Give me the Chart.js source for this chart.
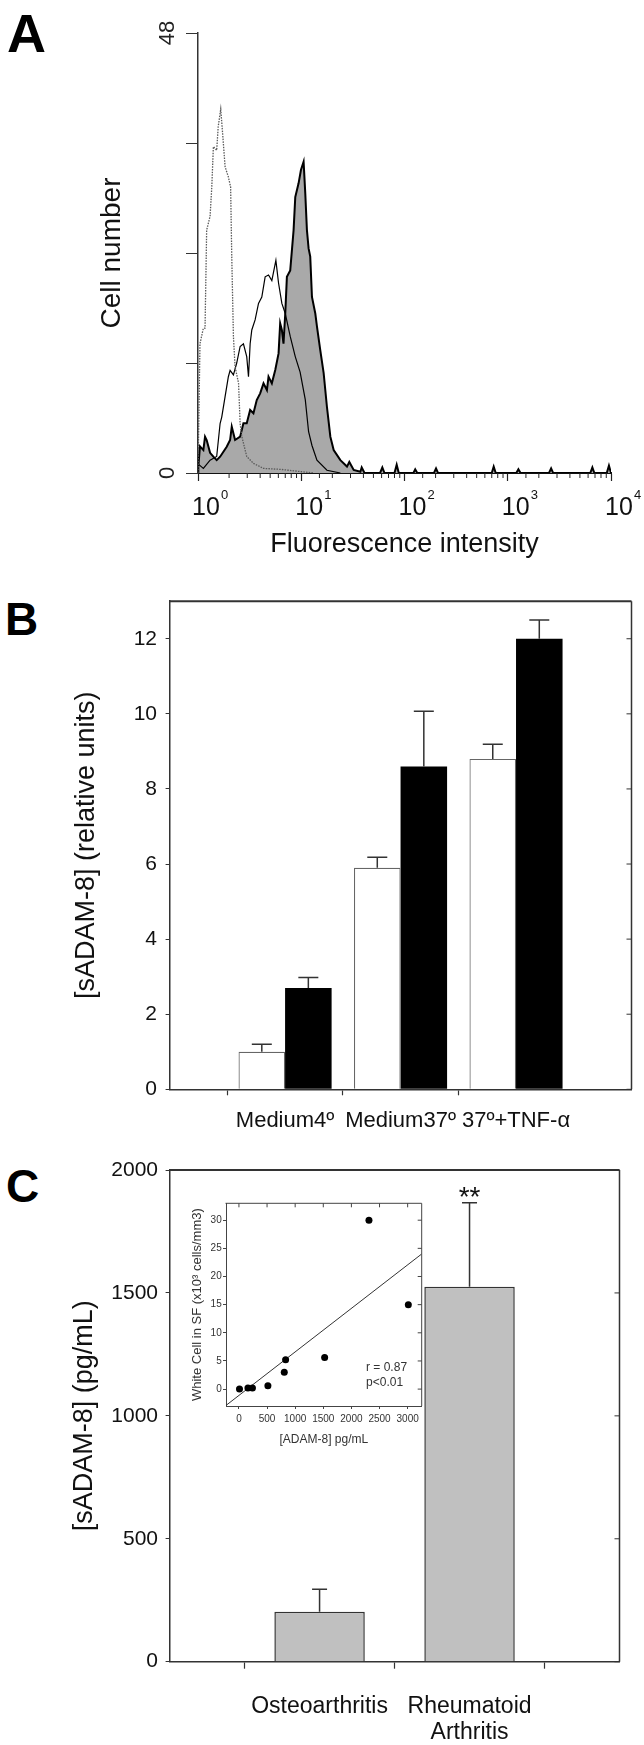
<!DOCTYPE html>
<html><head><meta charset="utf-8">
<script src="https://cdn.jsdelivr.net/npm/chart.js@4.4.1/dist/chart.umd.min.js"></script>
<style>
html,body{margin:0;padding:0;background:#fff;}
#page{position:relative;width:644px;height:1745px;overflow:hidden;font-family:"Liberation Sans",Arial,Helvetica,sans-serif;background:#fff;}
canvas{position:absolute;}
.letter{position:absolute;font-weight:bold;line-height:1;color:#000;font-family:"Liberation Sans",Arial,Helvetica,sans-serif;}
</style></head><body>
<div id="page">
  <div class="letter" style="left:7px;top:6px;font-size:54px">A</div>
  <div class="letter" style="left:5px;top:596px;font-size:46px">B</div>
  <div class="letter" style="left:6px;top:1163px;font-size:46px">C</div>
  <canvas id="cA" width="644" height="580" style="left:0;top:0"></canvas>
  <canvas id="cB" width="644" height="560" style="left:0;top:580px"></canvas>
  <canvas id="cC" width="644" height="605" style="left:0;top:1140px"></canvas>
  <canvas id="cI" width="248" height="254" style="left:180px;top:1196px"></canvas>
</div>
<script>
// ---------- Panel A: flow cytometry histograms ----------
const isoX = [1.00, 1.045, 1.127, 1.17, 1.213, 1.309, 1.36, 1.409, 1.517, 1.57, 1.66, 1.73, 1.83, 1.968, 2.07, 2.123, 2.203, 2.286, 2.47, 2.559, 2.655, 2.965, 3.443, 4.31, 6.25, 9.08, 13.2];
const isoY = [0, 14.1, 15.8, 15.8, 26.5, 28.0, 31.2, 35.6, 35.2, 37.8, 39.7, 37.1, 33.4, 32.3, 31.2, 23.6, 14.9, 11.6, 9.8, 5.4, 4.0, 1.8, 1.05, 0.5, 0.4, 0.2, 0];
const thinX = [1.0, 1.127, 1.309, 1.517, 1.637, 1.698, 1.828, 1.968, 2.046, 2.203, 2.371, 2.559, 2.754, 2.965, 3.083, 3.199, 3.319, 3.573, 3.855, 4.15, 4.47, 4.82, 5.19, 5.68, 6.03, 6.49, 7.0, 7.82, 8.75, 9.75, 10.94, 11.78, 12.7, 14.19, 17.74, 23.93];
const thinY = [1.0, 0.5, 1.4, 1.8, 5.4, 6.1, 8.3, 10.5, 11.2, 10.7, 12.0, 13.8, 14.1, 12.7, 10.5, 14.1, 15.6, 16.7, 18.5, 19.2, 21.4, 21.6, 21.0, 23.2, 20.7, 18.5, 17.4, 14.9, 12.7, 11.0, 8.0, 4.5, 3.0, 1.4, 0.3, 0];
const stainX = [1.0, 1.007, 1.045, 1.127, 1.17, 1.213, 1.309, 1.409, 1.517, 1.637, 1.897, 2.046, 2.123, 2.286, 2.559, 2.754, 2.965, 3.199, 3.443, 3.707, 4.0, 4.31, 4.65, 4.82, 5.19, 5.60, 6.03, 6.25, 6.49, 6.73, 7.0, 7.26, 7.82, 8.43, 8.75, 9.42, 9.93, 10.54, 10.94, 11.35, 11.78, 12.22, 12.7, 13.68, 14.19, 15.28, 16.48, 17.74, 19.14, 20.61, 23.93, 27.73, 29.2, 32.2, 37.4, 38.5, 41, 58, 61, 64, 80, 84, 88, 122, 127, 133, 193, 202, 211, 700, 731, 765, 1210, 1268, 1330, 2510, 2630, 2750, 6300, 6600, 6900, 9100, 9550, 10000];
const stainY = [0, 0.7, 2.9, 2.5, 3.96, 3.6, 2.2, 1.78, 1.4, 1.78, 2.87, 3.6, 5.05, 3.6, 3.96, 5.42, 5.42, 6.87, 6.51, 7.96, 8.69, 9.78, 9.05, 10.51, 9.78, 11.23, 13.05, 16.32, 15.6, 14.1, 17.4, 21.4, 22.1, 26.5, 30.1, 31.6, 33.05, 33.96, 30.5, 26.5, 24.5, 23.6, 19.2, 17.4, 16.0, 13.4, 10.9, 7.2, 3.96, 2.5, 1.4, 0.7, 1.2, 0.33, 0.14, 0.6, 0, 0, 0.6, 0, 0, 0.9, 0, 0, 0.4, 0, 0, 0.5, 0, 0, 0.7, 0, 0, 0.4, 0, 0, 0.5, 0, 0, 0.6, 0, 0, 0.8, 0];
const decadeExp = [0, 1, 2, 3, 4];
const yTicksA = [0, 48];

// ---------- Panel B ----------
const catB = ['Medium4\u00BA', 'Medium37\u00BA', '37\u00BA+TNF-\u03B1'];
const whiteB = [1.0, 5.9, 8.8];
const whiteErrB = [0.2, 0.28, 0.39];
const blackB = [2.7, 8.6, 12.0];
const blackErrB = [0.28, 1.47, 0.5];

// ---------- Panel C ----------
const catC = ['Osteoarthritis', ['Rheumatoid', 'Arthritis']];
const valC = [203, 1525];
const errC = [92, 342];
const sigC = ['', '**'];

// ---------- Inset ----------
const adamX = [10, 160, 240, 515, 806, 830, 1524, 2312, 3012];
const wbcY = [0, 0.2, 0.2, 0.6, 3.0, 5.2, 5.6, 30, 15];
const fitX = [-230, 3250];
const fitY = [-2.9, 24.0];
const insetXTicks = [0, 500, 1000, 1500, 2000, 2500, 3000];
const insetYTicks = [0, 5, 10, 15, 20, 25, 30];
const statText = ['r = 0.87', 'p<0.01'];

const FONT = '"Liberation Sans", Arial, Helvetica, sans-serif';
Chart.defaults.font.family = FONT;
Chart.defaults.color = '#111';
Chart.defaults.animation = false;
Chart.defaults.plugins.legend.display = false;
Chart.defaults.plugins.tooltip.enabled = false;

const pts = (xs, ys) => xs.map((x, i) => ({x: x, y: ys[i]}));

function errorBarPlugin(errSets, capW, color, lw) {
  return {id: 'errbars', afterDatasetsDraw(chart) {
    const ctx = chart.ctx, ys = chart.scales.y;
    ctx.save(); ctx.strokeStyle = color; ctx.lineWidth = lw;
    errSets.forEach((errs, di) => {
      if (!errs) return;
      const meta = chart.getDatasetMeta(di);
      meta.data.forEach((bar, i) => {
        const v = chart.data.datasets[di].data[i].y;
        const yTop = ys.getPixelForValue(v + errs[i]);
        ctx.beginPath();
        ctx.moveTo(bar.x, bar.y); ctx.lineTo(bar.x, yTop);
        ctx.moveTo(bar.x - capW / 2, yTop); ctx.lineTo(bar.x + capW / 2, yTop);
        ctx.stroke();
      });
    });
    ctx.restore();
  }};
}

function framePlugin(o) {
  return {id: 'frame', afterDraw(chart) {
    const {left, right, top, bottom} = chart.chartArea;
    const ctx = chart.ctx;
    ctx.save(); ctx.strokeStyle = o.color;
    ctx.lineWidth = o.topW;
    ctx.beginPath(); ctx.moveTo(left - 0.5, top); ctx.lineTo(right, top); ctx.stroke();
    ctx.lineWidth = o.rightW;
    ctx.beginPath(); ctx.moveTo(right, top); ctx.lineTo(right, bottom); ctx.stroke();
    ctx.lineWidth = 1;
    const ys = chart.scales.y;
    ys.ticks.forEach(t => {
      const py = ys.getPixelForValue(t.value);
      ctx.beginPath(); ctx.moveTo(right, py); ctx.lineTo(right - o.tick, py); ctx.stroke();
    });
    if (o.topTicks) {
      const xs = chart.scales.x;
      xs.ticks.forEach(t => {
        const px = xs.getPixelForValue(t.value);
        ctx.beginPath(); ctx.moveTo(px, top); ctx.lineTo(px, top + o.tick); ctx.stroke();
      });
    }
    ctx.restore();
  }};
}

// ================= Panel A =================
const isDecade = v => Math.abs(Math.log10(v) - Math.round(Math.log10(v))) < 1e-9;
const logLabelPlugin = {id: 'logLabels', afterDraw(chart) {
  const xs = chart.scales.x, ctx = chart.ctx, b = chart.chartArea.bottom;
  ctx.save(); ctx.fillStyle = '#111'; ctx.strokeStyle = '#222'; ctx.lineWidth = 1;
  xs.ticks.forEach(t => {
    if (!isDecade(t.value)) {
      const px = xs.getPixelForValue(t.value);
      ctx.beginPath(); ctx.moveTo(px, b); ctx.lineTo(px, b + 5); ctx.stroke();
    }
  });
  decadeExp.forEach(e => {
    const px = xs.getPixelForValue(Math.pow(10, e));
    ctx.font = '25px ' + FONT; ctx.textAlign = 'center'; ctx.textBaseline = 'alphabetic';
    const cx = px + 8;
    ctx.fillText('10', cx, b + 42);
    const w = ctx.measureText('10').width;
    ctx.font = '13px ' + FONT; ctx.textAlign = 'left';
    ctx.fillText(String(e), cx + w / 2 + 1, b + 26);
  });
  ctx.restore();
}};

new Chart(document.getElementById('cA'), {
  type: 'line',
  data: {datasets: [
    {data: pts(stainX, stainY), borderColor: '#000', borderWidth: 2, backgroundColor: '#a9a9a9', fill: 'origin', pointRadius: 0, tension: 0, order: 3},
    {data: pts(thinX, thinY), borderColor: '#000', borderWidth: 1.2, fill: false, pointRadius: 0, tension: 0, order: 2},
    {data: pts(isoX, isoY), borderColor: '#5a5a5a', borderWidth: 1.3, borderDash: [1.5, 1.2], fill: false, pointRadius: 0, tension: 0, order: 1}
  ]},
  options: {
    responsive: false, devicePixelRatio: 1,
    layout: {padding: {top: 33, right: 33, left: 0, bottom: 0}},
    scales: {
      x: {type: 'logarithmic', min: 1, max: 10000, position: 'bottom',
        border: {display: true, color: '#111', width: 2},
        grid: {drawOnChartArea: false, drawTicks: true, tickLength: 8, tickWidth: 1.2,
          tickColor: ctx => (ctx.tick && isDecade(ctx.tick.value)) ? '#222' : 'rgba(0,0,0,0)'},
        ticks: {autoSkip: false, maxRotation: 0, minRotation: 0, callback: () => '', padding: 0},
        title: {display: true, text: 'Fluorescence intensity', font: {size: 27}, color: '#111', padding: {top: 0, bottom: 19}},
        afterFit: s => { s.height = 107; }
      },
      y: {min: 0, max: 48,
        border: {display: true, color: '#333', width: 1.5},
        grid: {drawOnChartArea: false, tickLength: 12, tickColor: '#333', tickWidth: 1},
        ticks: {stepSize: 12, minRotation: 90, maxRotation: 90, crossAlign: 'center', padding: 6,
          font: {size: 22}, color: '#222',
          callback: v => yTicksA.includes(v) ? String(v) : ''},
        title: {display: true, text: 'Cell number', font: {size: 28}, color: '#111', padding: {top: 95, bottom: 0}},
        afterFit: s => { s.width = 198; }
      }
    }
  },
  plugins: [logLabelPlugin]
});

// ================= Panel B =================
new Chart(document.getElementById('cB'), {
  type: 'bar',
  data: {datasets: [
    {data: catB.map((c, i) => ({x: i + 1, y: whiteB[i]})), backgroundColor: '#fff', borderColor: '#666', borderWidth: 1.2, categoryPercentage: 0.806, barPercentage: 1.0},
    {data: catB.map((c, i) => ({x: i + 1, y: blackB[i]})), backgroundColor: '#000', borderColor: '#000', borderWidth: 0, categoryPercentage: 0.806, barPercentage: 1.0}
  ]},
  options: {
    responsive: false, devicePixelRatio: 1,
    layout: {padding: {top: 14, right: 3, left: 0, bottom: 0}},
    scales: {
      x: {type: 'linear', min: 0, max: 4, offset: false,
        border: {display: true, color: '#333', width: 1.5},
        grid: {drawOnChartArea: false, tickLength: 6, tickWidth: 1.2,
          tickColor: ctx => (ctx.tick && ctx.tick.value >= 1 && ctx.tick.value <= catB.length) ? '#333' : 'rgba(0,0,0,0)'},
        ticks: {stepSize: 1, autoSkip: false, maxRotation: 0, padding: 12.5, font: {size: 22}, color: '#111',
          callback: v => catB[v - 1] || ''},
        afterFit: s => { s.height = 50.7; }
      },
      y: {min: 0, max: 13,
        border: {display: true, color: '#333', width: 1.5},
        grid: {drawOnChartArea: false, tickLength: 4, tickColor: '#333'},
        ticks: {stepSize: 2, includeBounds: false, padding: 8.6, font: {size: 21}, color: '#111'},
        title: {display: true, text: '[sADAM-8] (relative units)', font: {size: 27}, color: '#111', padding: {top: 70, bottom: 0}},
        afterFit: s => { s.width = 169.6; }
      }
    }
  },
  plugins: [errorBarPlugin([whiteErrB, blackErrB], 20, '#333', 1.5), framePlugin({color: '#333', topW: 2, rightW: 1.5, tick: 5})]
});

// ================= Panel C =================
const sigPlugin = {id: 'sig', afterDraw(chart) {
  const ctx = chart.ctx, ys = chart.scales.y, meta = chart.getDatasetMeta(0);
  ctx.save(); ctx.fillStyle = '#111'; ctx.font = '28px ' + FONT; ctx.textAlign = 'center'; ctx.textBaseline = 'alphabetic';
  sigC.forEach((s, i) => {
    if (!s) return;
    const yTop = ys.getPixelForValue(valC[i] + errC[i]);
    ctx.fillText(s, meta.data[i].x, yTop + 3);
  });
  ctx.restore();
}};

new Chart(document.getElementById('cC'), {
  type: 'bar',
  data: {datasets: [
    {data: catC.map((c, i) => ({x: i + 1, y: valC[i]})), backgroundColor: '#c0c0c0', borderColor: '#333', borderWidth: 1.5, categoryPercentage: 0.603, barPercentage: 1.0}
  ]},
  options: {
    responsive: false, devicePixelRatio: 1,
    layout: {padding: {top: 30, right: 2, left: 0, bottom: 0}},
    scales: {
      x: {type: 'linear', min: 0, max: 3, offset: false,
        border: {display: true, color: '#333', width: 1.5},
        grid: {drawOnChartArea: false, tickLength: 7, tickWidth: 1.2,
          tickColor: ctx => (ctx.tick && ctx.tick.value >= 1) ? '#333' : 'rgba(0,0,0,0)'},
        ticks: {stepSize: 1, autoSkip: false, maxRotation: 0, padding: 24.5, font: {size: 23, lineHeight: 1.15}, color: '#111',
          callback: v => catC[v - 1] || ''},
        afterFit: s => { s.height = 83.3; }
      },
      y: {min: 0, max: 2000,
        border: {display: true, color: '#333', width: 1.5},
        grid: {drawOnChartArea: false, tickLength: 4, tickColor: '#333'},
        ticks: {stepSize: 500, padding: 7.6, font: {size: 21}, color: '#111', callback: v => String(v)},
        title: {display: true, text: '[sADAM-8] (pg/mL)', font: {size: 27}, color: '#111', padding: {top: 68, bottom: 0}},
        afterFit: s => { s.width = 169.6; }
      }
    }
  },
  plugins: [errorBarPlugin([errC], 15, '#333', 1.5), framePlugin({color: '#333', topW: 2, rightW: 1.5, tick: 5}), sigPlugin]
});

// ================= Inset =================
const statPlugin = {id: 'stat', afterDraw(chart) {
  const ctx = chart.ctx, xs = chart.scales.x, ys = chart.scales.y;
  ctx.save(); ctx.fillStyle = '#333'; ctx.font = '12px ' + FONT; ctx.textAlign = 'left'; ctx.textBaseline = 'alphabetic';
  ctx.fillText(statText[0], xs.getPixelForValue(2260), ys.getPixelForValue(3.3));
  ctx.fillText(statText[1], xs.getPixelForValue(2260), ys.getPixelForValue(0.6));
  ctx.restore();
}};

new Chart(document.getElementById('cI'), {
  type: 'scatter',
  data: {datasets: [
    {data: pts(adamX, wbcY), backgroundColor: '#000', borderColor: '#000', pointRadius: 3.5, pointBorderWidth: 0},
    {type: 'line', data: pts(fitX, fitY), borderColor: '#333', borderWidth: 1, pointRadius: 0, fill: false, tension: 0}
  ]},
  options: {
    responsive: false, devicePixelRatio: 1,
    layout: {padding: {top: 6.7, right: 6.3, left: 0, bottom: 0}},
    scales: {
      x: {type: 'linear', min: -230, max: 3250,
        afterBuildTicks: s => { s.ticks = insetXTicks.map(v => ({value: v})); },
        border: {display: true, color: '#444', width: 1},
        grid: {drawOnChartArea: false, tickLength: 3, tickColor: '#444'},
        ticks: {autoSkip: false, maxRotation: 0, padding: 4, font: {size: 10}, color: '#333', callback: v => String(v)},
        title: {display: true, text: '[ADAM-8] pg/mL', font: {size: 12}, color: '#333', padding: {top: 0, bottom: 2.8}},
        afterFit: s => { s.height = 44; }
      },
      y: {min: -3, max: 33,
        afterBuildTicks: s => { s.ticks = insetYTicks.map(v => ({value: v})); },
        border: {display: true, color: '#444', width: 1},
        grid: {drawOnChartArea: false, tickLength: 3, tickColor: '#444'},
        ticks: {padding: 1.3, font: {size: 10}, color: '#333', callback: v => String(v)},
        title: {display: true, text: 'White Cell in SF (x10\u00B3 cells/mm3)', font: {size: 13}, color: '#333', padding: {top: 9.2, bottom: 0}},
        afterFit: s => { s.width = 46; }
      }
    }
  },
  plugins: [framePlugin({color: '#444', topW: 1, rightW: 1, tick: 4, topTicks: true}), statPlugin]
});
</script>
</body></html>
